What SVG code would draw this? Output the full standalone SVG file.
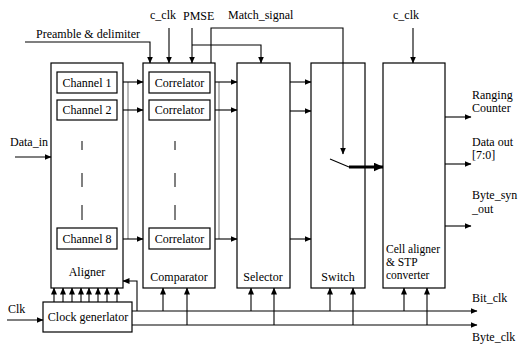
<svg xmlns="http://www.w3.org/2000/svg" width="518" height="345" viewBox="0 0 518 345">
<defs>
<marker id="ah" markerWidth="7" markerHeight="6" refX="6.5" refY="3" orient="auto" markerUnits="userSpaceOnUse"><path d="M0,0 L7,3 L0,6 z" fill="#000"/></marker>
<marker id="ahb" markerWidth="10" markerHeight="9" refX="9.5" refY="4.5" orient="auto" markerUnits="userSpaceOnUse"><path d="M0,0 L10,4.5 L0,9 z" fill="#000"/></marker>
</defs>
<style>
.box{fill:#fff;stroke:#000;stroke-width:1.2}
.ln{fill:none;stroke:#000;stroke-width:1.1}
.ar{fill:none;stroke:#000;stroke-width:1.1;marker-end:url(#ah)}
.dsh{fill:none;stroke:#000;stroke-width:1}
.thk{fill:none;stroke:#000;stroke-width:3;marker-end:url(#ahb)}
text{font-family:"Liberation Serif","Times New Roman","DejaVu Serif",serif;font-size:12px;fill:#000}
.c{text-anchor:middle}
.s{font-size:11.5px}
</style>
<rect width="518" height="345" fill="#fff"/>

<g font-family="Liberation Serif, Times New Roman, serif">
<g id="aligner">
<rect class="box" x="51" y="63" width="72" height="225"/>
<text class="c" x="87" y="276">Aligner</text>
</g>
<g id="channel1"><rect class="box" x="57" y="72" width="60" height="21"/><text class="c" x="87" y="87">Channel 1</text></g>
<g id="channel2"><rect class="box" x="57" y="100" width="60" height="20"/><text class="c" x="87" y="114">Channel 2</text></g>
<g id="channel8"><rect class="box" x="57" y="228" width="60" height="21"/><text class="c" x="87" y="243">Channel 8</text></g>

<g id="comparator">
<rect class="box" x="143" y="63" width="72" height="225"/>
<text class="c" x="179" y="281">Comparator</text>
</g>
<g id="correlator1"><rect class="box" x="149" y="72" width="61" height="21"/><text class="c" x="179.5" y="87">Correlator</text></g>
<g id="correlator2"><rect class="box" x="149" y="100" width="61" height="20"/><text class="c" x="179.5" y="114">Correlator</text></g>
<g id="correlator8"><rect class="box" x="149" y="228" width="61" height="21"/><text class="c" x="179.5" y="243">Correlator</text></g>

<g id="selector">
<rect class="box" x="237" y="63" width="53" height="225"/>
<text class="c" x="263" y="281">Selector</text>
</g>
<g id="switch">
<rect class="box" x="311" y="63" width="54" height="225"/>
<text class="c" x="338" y="281">Switch</text>
</g>
<g id="cellaligner">
<rect class="box" x="383" y="63" width="62" height="225"/>
<text class="s" x="386" y="253">Cell aligner</text>
<text class="s" x="386" y="266">&amp; STP</text>
<text class="s" x="386" y="279">converter</text>
</g>
<g id="clockgen">
<rect class="box" x="43" y="302" width="89" height="30"/>
<text class="c" x="88" y="321">Clock generlator</text>
</g>

<g id="connectors">
<path class="ar" d="M15,157 H51"/>
<path class="ar" d="M7,320 H43"/>
<path class="ar" d="M123,82 H143"/>
<path class="ar" d="M123,110 H143"/>
<path class="ar" d="M123,239 H143"/>
<path class="ar" d="M215,82 H237"/>
<path class="ar" d="M215,110 H237"/>
<path class="ar" d="M215,239 H237"/>
<path class="ar" d="M290,82 H311"/>
<path class="ar" d="M290,111 H311"/>
<path class="ar" d="M290,239 H311"/>
<path class="ln" d="M128,82 V239" stroke-opacity="0.5"/>
<path class="ln" d="M219,82 V239" stroke-opacity="0.5"/>
<path class="dsh" d="M82,141 V150 M82,173 V187 M82,205 V220"/>
<path class="dsh" d="M175,141 V150 M175,173 V187 M175,205 V220"/>
<path class="ar" d="M25,42 H150 V63"/>
<path class="ar" d="M169,28 V63"/>
<path class="ar" d="M192,28 V63"/>
<path class="ar" d="M192,45 H261 V63"/>
<path class="ar" d="M211,63 V28 H343 V154"/>
<path class="ar" d="M413,28 V63"/>
<path class="ln" d="M330,159 L349,167"/>
<path class="thk" d="M349,167 H383"/>
<path class="ar" d="M445,117 H471"/>
<path class="ar" d="M445,164 H471"/>
<path class="ar" d="M445,226 H471"/>
<path class="ar" d="M54,302 V288"/>
<path class="ar" d="M63,302 V288"/>
<path class="ar" d="M72,302 V288"/>
<path class="ar" d="M81,302 V288"/>
<path class="ar" d="M89,302 V288"/>
<path class="ar" d="M98,302 V288"/>
<path class="ar" d="M107,302 V288"/>
<path class="ar" d="M117,302 V288"/>
<path class="ar" d="M137,311 V281 H123"/>
<path class="ar" d="M132,311 H477"/>
<path class="ar" d="M132,325 H477"/>
<path class="ar" d="M163,311 V288"/>
<path class="ar" d="M251,311 V288"/>
<path class="ar" d="M330,311 V288"/>
<path class="ar" d="M404,311 V288"/>
<path class="ar" d="M187,325 V288"/>
<path class="ar" d="M274,325 V288"/>
<path class="ar" d="M353,325 V288"/>
<path class="ar" d="M427,325 V288"/>
</g>

<g id="labels">
<text x="36" y="38">Preamble &amp;  delimiter</text>
<text x="150" y="19">c_clk</text>
<text x="183" y="20">PMSE</text>
<text x="228" y="19">Match_signal</text>
<text x="393" y="19">c_clk</text>
<text x="10" y="146">Data_in</text>
<text x="8" y="313">Clk</text>
<text x="472" y="99">Ranging</text>
<text x="472" y="112">Counter</text>
<text x="472" y="146">Data  out</text>
<text x="472" y="159">[7:0]</text>
<text x="472" y="199">Byte_syn</text>
<text x="472" y="213">_out</text>
<text x="472" y="302">Bit_clk</text>
<text x="472" y="341">Byte_clk</text>
</g>
</g>
</svg>
